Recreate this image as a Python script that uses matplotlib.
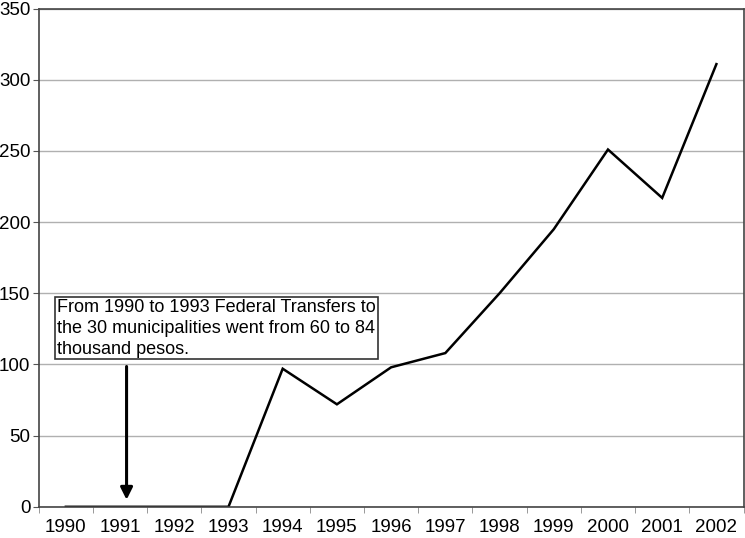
import numpy as np
import matplotlib.pyplot as plt

years = ["1990", "1991", "1992", "1993", "1994", "1995", "1996",
         "1997", "1998", "1999", "2000", "2001", "2002"]
transfers = [0, 0, 0, 0, 97, 72, 98, 108, 150, 195, 251, 217, 311]

note = ("From 1990 to 1993 Federal Transfers to\n"
        "the 30 municipalities went from 60 to 84\n"
        "thousand pesos.")


def main():
    plt.rcParams["font.family"] = ["Liberation Sans", "DejaVu Sans"]
    fig = plt.figure(figsize=(7.45, 5.38), dpi=100)
    ax = fig.add_axes([0.052, 0.058, 0.946, 0.926])

    x = np.arange(len(years))
    ax.plot(x, transfers, color="black", lw=1.8, solid_joinstyle="miter")

    ax.set_xlim(-0.5, len(years) - 0.5)
    ax.set_ylim(0, 350)
    ax.set_yticks(range(0, 351, 50))
    ax.set_xticks(x)
    ax.set_xticklabels(years)
    ax.set_xticks(np.arange(-0.5, len(years), 1), minor=True)
    ax.tick_params(axis="x", which="major", length=0, pad=9, labelsize=13.5)
    ax.tick_params(axis="x", which="minor", length=4, color="#888888")
    ax.tick_params(axis="y", length=4, color="#555555", labelsize=13.5, pad=2)
    ax.yaxis.grid(True, color="#b0b0b0", lw=1)
    ax.set_axisbelow(True)
    for s in ax.spines.values():
        s.set_color("#444444")
        s.set_linewidth(1.2)

    ax.annotate("", xy=(1.12, 3), xytext=(1.12, 100.5),
                arrowprops=dict(arrowstyle="-|>", color="black", lw=2.2,
                                mutation_scale=18))
    ax.text(-0.16, 125.5, note, fontsize=13, va="center", ha="left",
            linespacing=1.3,
            bbox=dict(boxstyle="square,pad=0.1", fc="white",
                      ec="#333333", lw=1.2))

    fig.savefig("out.png", dpi=100)


if __name__ == "__main__":
    main()
